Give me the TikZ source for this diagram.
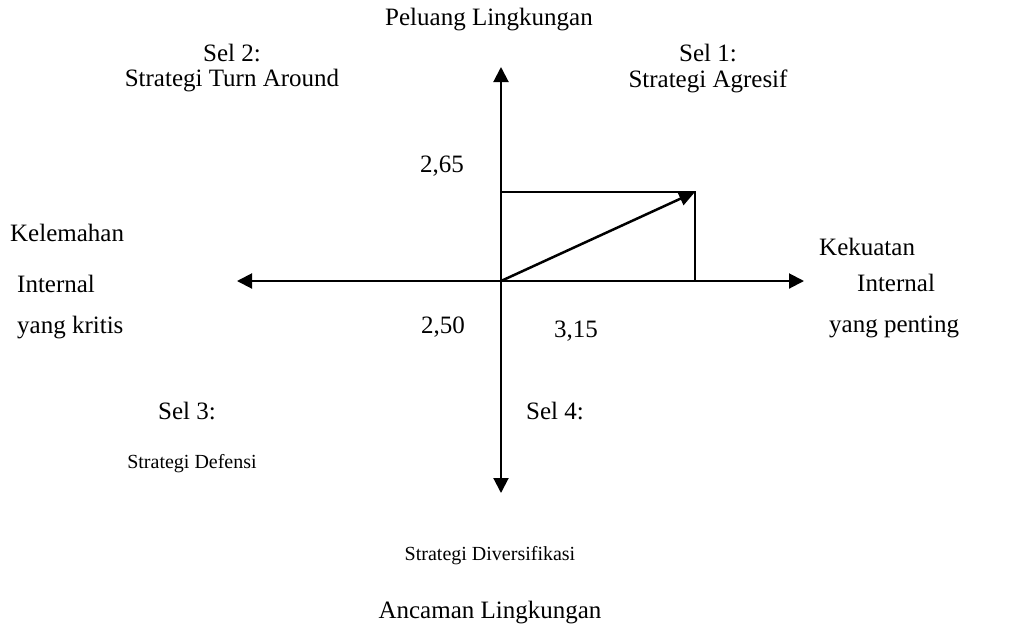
\documentclass[tikz,border=0pt]{standalone}
\usepackage{fontspec}
\setmainfont{Liberation Serif}
\usetikzlibrary{arrows.meta}
\tikzset{
  lbl/.style={font=\fontsize{25}{30}\selectfont, inner sep=0pt},
  lblsmall/.style={font=\fontsize{20}{24}\selectfont, inner sep=0pt},
  axis/.style={line width=2pt, -{Triangle[length=15pt,width=15pt]}},
}
\begin{document}
\begin{tikzpicture}[x=1pt, y=-1pt]
  \useasboundingbox (0,0) rectangle (1021,633);
  \coordinate (O) at (501,281);
  \coordinate (top) at (501,67);
  \coordinate (bot) at (501,493);
  \coordinate (left) at (237,281);
  \coordinate (right) at (804,281);
  \coordinate (P) at (695,192);
  \draw[axis] (O) -- (top);
  \draw[axis] (O) -- (bot);
  \draw[axis] (O) -- (left);
  \draw[axis] (O) -- (right);
  \draw[line width=2pt] (O |- P) -- (P) -- (P |- O);
  \draw[line width=2.5pt, -{Triangle[length=16pt,width=14pt]}] (O) -- (P);
  % labels
  \node[lbl] (peluang) at (489,20) {Peluang Lingkungan};
  \node[lbl] (sel2) at (232,53) {Sel 2:};
  \node[lbl] (turn) at (232,81) {Strategi Turn Around};
  \node[lbl] (sel1) at (708,53) {Sel 1:};
  \node[lbl] (agresif) at (708,81) {Strategi Agresif};
  \node[lbl] (y265) at (442,166) {2,65};
  \node[lbl, anchor=west] (kelemahan) at (10,233) {Kelemahan};
  \node[lbl, anchor=west] (internL) at (17,284) {Internal};
  \node[lbl, anchor=west] (kritis) at (17,328) {yang kritis};
  \node[lbl, anchor=west] (kekuatan) at (819,247) {Kekuatan};
  \node[lbl, anchor=west] (internR) at (857,283) {Internal};
  \node[lbl, anchor=west] (penting) at (829,327) {yang penting};
  \node[lbl] (x250) at (443,327) {2,50};
  \node[lbl] (x315) at (576,331) {3,15};
  \node[lbl] (sel3) at (187,411) {Sel 3:};
  \node[lbl] (sel4) at (555,411) {Sel 4:};
  \node[lblsmall] (defensi) at (192,464) {Strategi Defensi};
  \node[lblsmall] (divers) at (490,556) {Strategi Diversifikasi};
  \node[lbl] (ancaman) at (490,613) {Ancaman Lingkungan};
\end{tikzpicture}
\end{document}
